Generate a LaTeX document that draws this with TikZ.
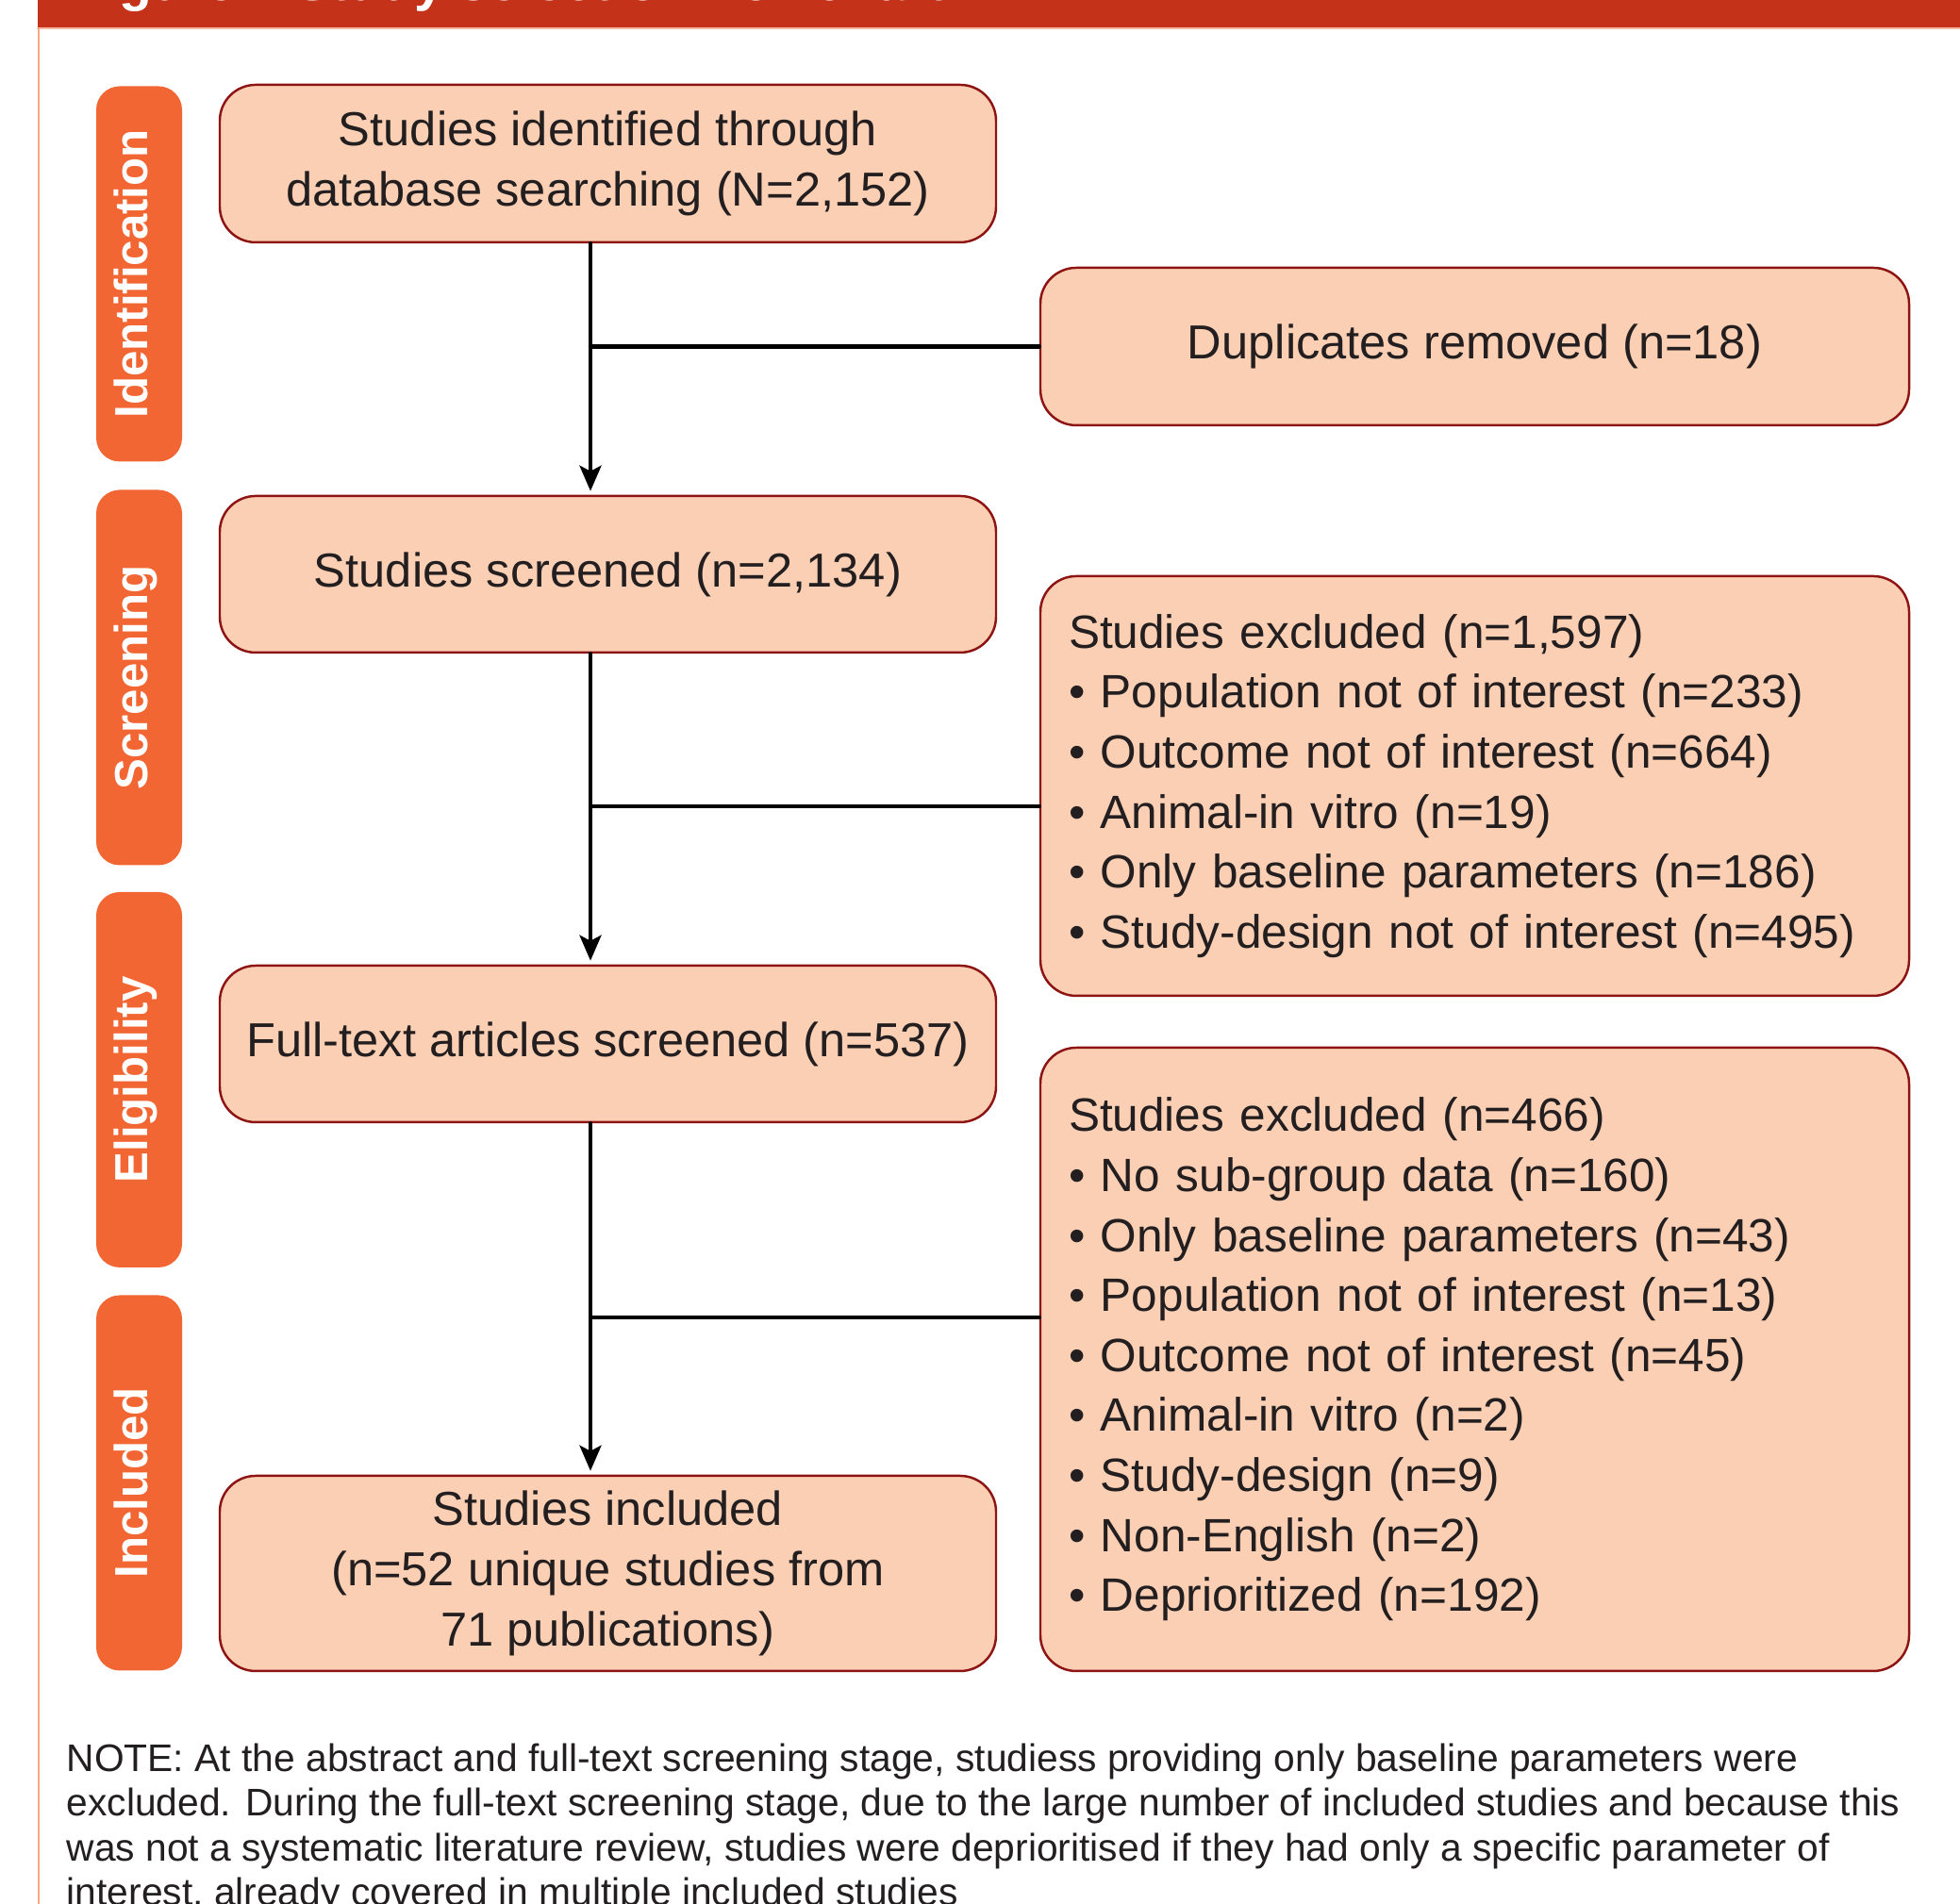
\documentclass[tikz,border=0pt]{standalone}
\usepackage{fontspec}
\setmainfont{Liberation Sans}
\usetikzlibrary{arrows.meta}

\definecolor{boxfill}{HTML}{FBCFB4}
\definecolor{boxline}{HTML}{8E1414}
\definecolor{stagefill}{HTML}{F26633}
\definecolor{barred}{HTML}{C4321A}
\definecolor{rimline}{HTML}{F5A886}
\definecolor{inkdark}{HTML}{231F20}

\begin{document}
\begin{tikzpicture}[line cap=round,
    flowbox/.style={draw=boxline, fill=boxfill, line width=0.7pt, rounded corners=0.38cm,
        inner sep=0pt, align=center, text=inkdark, font=\fontsize{14.4}{18.1}\selectfont},
    listbox/.style={flowbox, align=left, text width=8.61cm, inner xsep=0.30cm,
        font=\fontsize{14.1}{18.1}\selectfont},
    stagebox/.style={fill=stagefill, rounded corners=0.25cm, rotate=90, inner sep=0pt,
        minimum width=3.98cm, minimum height=0.91cm, text=white, text height=0.75em, text depth=0.25em,
        font=\fontsize{14}{16}\selectfont\bfseries},
    flowline/.style={line width=1.25pt, draw=black},
    flowarrow/.style={flowline, -{Stealth[length=0.27cm, width=0.23cm, inset=0.06cm]}, shorten >=0.04cm}]

    \def\W{20.78} % picture width
    \def\H{20.19} % picture height

\useasboundingbox (0,0) rectangle (\W,\H);
\clip (0,0) rectangle (\W,\H);

% title bar (cut off at the top) and frame
\fill[barred] (0.40,19.90) rectangle (\W,\H);
\draw[rimline!80, line width=0.6pt] (0.40,19.89) -- (\W,19.89);
\draw[rimline, line width=0.6pt] (0.41,19.89) -- (0.41,0);
\node[anchor=base west, text=white, inner sep=0pt, font=\fontsize{16.2}{18}\selectfont\bfseries]
    (title) at (0.75,20.18) {Figure 1 Study selection flowchart};

% stage labels on the left
\foreach \lab/\yc [count=\k] in {Identification/17.285, Screening/13.005, Eligibility/8.74, Included/4.465} {
    \node[stagebox] (stage\k) at (1.475,\yc) {\lab};
}

% main column
\node[flowbox, minimum width=8.23cm, minimum height=1.67cm] (ident) at (6.445,18.455)
    {Studies identified through\\database searching (N=2,152)};
\node[flowbox, minimum width=8.23cm, minimum height=1.66cm] (screen) at (6.445,14.10)
    {Studies screened (n=2,134)};
\node[flowbox, minimum width=8.23cm, minimum height=1.66cm] (fulltext) at (6.445,9.12)
    {Full-text articles screened (n=537)};
\node[flowbox, minimum width=8.23cm, minimum height=2.07cm] (incl) at (6.445,3.505)
    {Studies included\\(n=52 unique studies from\\71 publications)};

% exclusion column
\node[flowbox, minimum width=9.21cm, minimum height=1.67cm] (dupl) at (15.635,16.515)
    {Duplicates removed (n=18)};
\node[listbox, minimum height=4.45cm] (exclA) at (15.635,11.855)
    {Studies excluded (n=1,597)\\
     • Population not of interest (n=233)\\
     • Outcome not of interest (n=664)\\
     • Animal-in vitro (n=19)\\
     • Only baseline parameters (n=186)\\
     • Study-design not of interest (n=495)};
\node[listbox, minimum height=6.61cm] (exclB) at (15.635,5.775)
    {Studies excluded (n=466)\\
     • No sub-group data (n=160)\\
     • Only baseline parameters (n=43)\\
     • Population not of interest (n=13)\\
     • Outcome not of interest (n=45)\\
     • Animal-in vitro (n=2)\\
     • Study-design (n=9)\\
     • Non-English (n=2)\\
     • Deprioritized (n=192)};

% connectors
\coordinate (spine) at (6.26,0);
\coordinate (brA) at (6.26,11.64);
\coordinate (brB) at (6.26,6.22);

\draw[flowarrow] (ident.south -| spine) -- (screen.north -| spine);
\draw[flowarrow] (screen.south -| spine) -- (fulltext.north -| spine);
\draw[flowarrow] (fulltext.south -| spine) -- (incl.north -| spine);

\draw[flowline] (dupl.west -| spine) -- (dupl.west);
\draw[flowline] (brA) -- (brA -| exclA.west);
\draw[flowline] (brB) -- (brB -| exclB.west);

% note under the chart
\node[anchor=north west, align=left, inner sep=0pt, text=inkdark, font=\fontsize{11.6}{13.5}\selectfont]
    (note) at (0.70,1.71)
    {NOTE: At the abstract and full-text screening stage, studiess providing only baseline parameters were\\
     excluded. During the full-text screening stage, due to the large number of included studies and because this\\
     was not a systematic literature review, studies were deprioritised if they had only a specific parameter of\\
     interest, already covered in multiple included studies};

\end{tikzpicture}
\end{document}
